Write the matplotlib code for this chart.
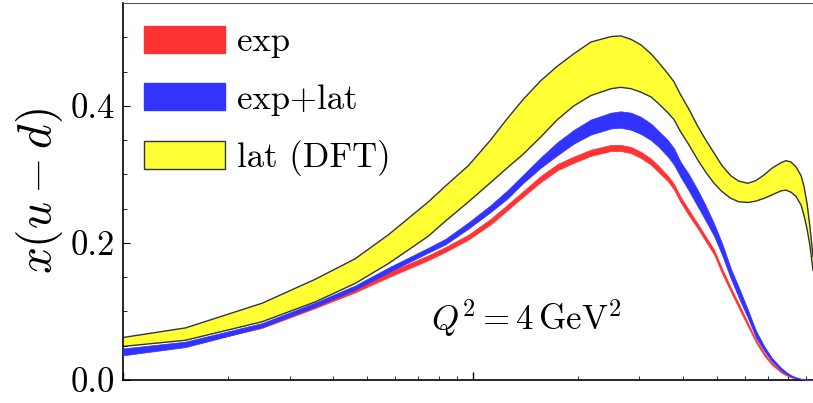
import numpy as np
import matplotlib
matplotlib.use("Agg")
import matplotlib.pyplot as plt
from matplotlib.patches import Patch
from matplotlib.ticker import MultipleLocator, LogLocator, NullFormatter

plt.rcParams['font.family'] = 'serif'
plt.rcParams['font.serif'] = ['cmr10']
plt.rcParams['mathtext.fontset'] = 'cm'
plt.rcParams['axes.formatter.use_mathtext'] = True

# x values (log axis)
x = [0.010, 0.0151, 0.025, 0.0355, 0.0462, 0.0575, 0.0748, 0.0837, 0.0974, 0.1126,
     0.126, 0.140, 0.157, 0.175, 0.195, 0.218, 0.249, 0.2655, 0.284, 0.303,
     0.324, 0.341, 0.362, 0.377, 0.394, 0.416, 0.441, 0.465, 0.491, 0.517,
     0.548, 0.578, 0.614, 0.647, 0.682, 0.719, 0.763, 0.788, 0.815, 0.842,
     0.871, 0.888, 0.906, 0.924, 0.942]

# lat (DFT) band
lat_hi = [0.062, 0.076, 0.112, 0.147, 0.177, 0.212, 0.260, 0.283, 0.313, 0.350,
          0.382, 0.410, 0.437, 0.458, 0.476, 0.493, 0.501, 0.502, 0.497, 0.489,
          0.476, 0.463, 0.447, 0.435, 0.416, 0.395, 0.370, 0.350, 0.331, 0.313,
          0.298, 0.290, 0.287, 0.291, 0.299, 0.309, 0.317, 0.320, 0.318, 0.311,
          0.298, 0.282, 0.257, 0.222, 0.180]
lat_lo = [0.049, 0.058, 0.085, 0.114, 0.141, 0.170, 0.210, 0.232, 0.260, 0.288,
          0.310, 0.330, 0.355, 0.380, 0.400, 0.415, 0.425, 0.427, 0.425, 0.420,
          0.413, 0.403, 0.390, 0.380, 0.362, 0.343, 0.321, 0.303, 0.287, 0.275,
          0.265, 0.260, 0.259, 0.261, 0.265, 0.270, 0.276, 0.277, 0.274, 0.268,
          0.255, 0.240, 0.220, 0.195, 0.160]

# exp+lat band
both_hi = [0.046, 0.056, 0.083, 0.113, 0.138, 0.164, 0.193, 0.206, 0.230, 0.255,
           0.277, 0.300, 0.325, 0.347, 0.365, 0.380, 0.390, 0.392, 0.390, 0.384,
           0.374, 0.363, 0.350, 0.338, 0.318, 0.300, 0.277, 0.254, 0.228, 0.200,
           0.163, 0.135, 0.102, 0.072, 0.050, 0.032, 0.018, 0.012, 0.007, 0.004,
           0.002, 0.001, 0.0, 0.0, 0.0]
both_lo = [0.036, 0.048, 0.077, 0.107, 0.132, 0.157, 0.186, 0.198, 0.221, 0.245,
           0.265, 0.288, 0.310, 0.328, 0.345, 0.358, 0.367, 0.368, 0.365, 0.359,
           0.350, 0.340, 0.326, 0.314, 0.296, 0.276, 0.253, 0.232, 0.210, 0.183,
           0.148, 0.120, 0.090, 0.062, 0.043, 0.027, 0.014, 0.009, 0.005, 0.003,
           0.001, 0.0005, 0.0, 0.0, 0.0]

# exp band
exp_hi = [0.045, 0.055, 0.081, 0.111, 0.134, 0.157, 0.182, 0.194, 0.212, 0.235,
          0.256, 0.276, 0.298, 0.315, 0.326, 0.336, 0.343, 0.343, 0.340, 0.333,
          0.323, 0.312, 0.298, 0.286, 0.267, 0.248, 0.228, 0.209, 0.190, 0.163,
          0.135, 0.111, 0.083, 0.059, 0.040, 0.025, 0.013, 0.009, 0.005, 0.003,
          0.001, 0.0005, 0.0, 0.0, 0.0]
exp_lo = [0.040, 0.050, 0.076, 0.105, 0.128, 0.150, 0.175, 0.187, 0.205, 0.227,
          0.248, 0.268, 0.289, 0.306, 0.317, 0.327, 0.334, 0.334, 0.331, 0.324,
          0.314, 0.303, 0.290, 0.278, 0.259, 0.240, 0.221, 0.202, 0.183, 0.156,
          0.129, 0.105, 0.078, 0.055, 0.036, 0.022, 0.011, 0.007, 0.004, 0.002,
          0.0005, 0.0, 0.0, 0.0, 0.0]

red = '#ff3333'
blue = '#3333ff'
yellow = '#ffff33'

fig = plt.figure(figsize=(8.13, 4.03), dpi=100)
ax = fig.add_axes([123/813, 1 - 380/403, 690/813, 377/403])

ax.fill_between(x, lat_lo, lat_hi, color=yellow, lw=0, zorder=1)
ax.plot(x, lat_hi, color='#333333', lw=1.0, zorder=1.5)
ax.plot(x, lat_lo, color='#333333', lw=1.0, zorder=1.5)
ax.fill_between(x, exp_lo, exp_hi, color=red, lw=0.5, edgecolor=red, zorder=2)
ax.fill_between(x, both_lo, both_hi, color=blue, lw=0.5, edgecolor=blue, zorder=3)

ax.set_xscale('log')
ax.set_xlim(0.01, 0.942)
ax.set_ylim(0, 0.55)

ax.yaxis.set_major_locator(MultipleLocator(0.2))
ax.yaxis.set_minor_locator(MultipleLocator(0.05))
ax.yaxis.set_major_formatter(matplotlib.ticker.FormatStrFormatter('%.1f'))
ax.xaxis.set_major_locator(LogLocator(base=10))
ax.xaxis.set_minor_locator(LogLocator(base=10, subs=np.arange(2, 10)))
ax.xaxis.set_major_formatter(NullFormatter())
ax.xaxis.set_minor_formatter(NullFormatter())
ax.tick_params(axis='both', which='both', direction='in', top=False, right=False)
ax.tick_params(axis='y', which='major', length=5, width=0.8, labelsize=25, pad=6)
ax.tick_params(axis='y', which='minor', length=3, width=0.6)
ax.tick_params(axis='x', which='major', length=6, width=1.0)
ax.tick_params(axis='x', which='minor', length=3, width=0.6)

ax.spines['right'].set_visible(False)
ax.spines['top'].set_color('#555555')
ax.spines['left'].set_linewidth(1.2)
ax.spines['bottom'].set_linewidth(1.2)

ax.set_ylabel(r'$x(u-d)$', fontsize=34, labelpad=4)

ax.text(0.585, 0.165, r'$Q^2 = 4\,\mathrm{GeV}^2$', transform=ax.transAxes,
        fontsize=25, ha='center', va='center')

handles = [Patch(facecolor=red, edgecolor=red),
           Patch(facecolor=blue, edgecolor=blue),
           Patch(facecolor=yellow, edgecolor='#333333', lw=1.0)]
ax.legend(handles, ['exp', 'exp+lat', 'lat (DFT)'], loc='upper left',
          bbox_to_anchor=(0.03, 0.94), frameon=False, fontsize=25,
          handlelength=2.35, handleheight=0.85, handletextpad=0.35,
          labelspacing=0.7, borderpad=0, borderaxespad=0)

fig.savefig('out.png', dpi=100)
